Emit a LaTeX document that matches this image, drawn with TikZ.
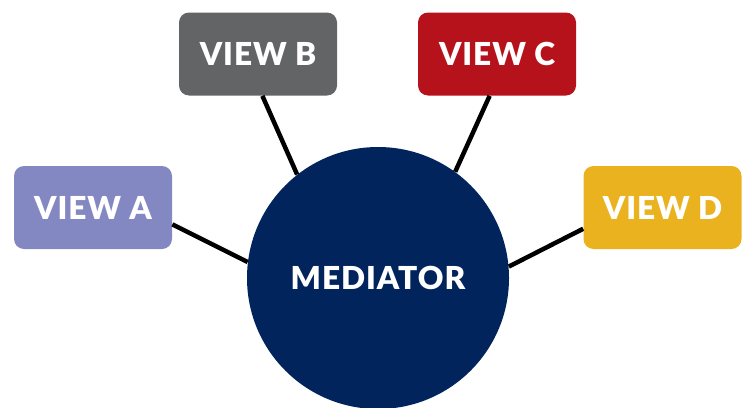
\documentclass[tikz,border=0pt]{standalone}
\usepackage{fontspec}
\setmainfont{Lato}[BoldFont={Lato Black}, LetterSpace=3]
\definecolor{viewa}{HTML}{8488C2}
\definecolor{viewb}{HTML}{636466}
\definecolor{viewc}{HTML}{B5121B}
\definecolor{viewd}{HTML}{EBB220}
\definecolor{navy}{HTML}{02245C}
\begin{document}
\begin{tikzpicture}[
  viewbox/.style={rectangle, rounded corners=0.2cm, minimum width=3.16cm, minimum height=1.66cm, text=white, font=\fontsize{18}{20}\selectfont\bfseries},
  link/.style={line width=0.09cm}]
\useasboundingbox (0,0) rectangle (14.96,-8.14);
\node[circle, fill=navy, minimum size=5.24cm, text=white, font=\fontsize{18}{20}\selectfont\bfseries] (m) at (7.56,-5.56) {MEDIATOR};
\node[viewbox, fill=viewa] (a) at (1.86,-4.15) {VIEW A};
\node[viewbox, fill=viewb] (b) at (5.16,-1.08) {VIEW B};
\node[viewbox, fill=viewc] (c) at (9.94,-1.08) {VIEW C};
\node[viewbox, fill=viewd] (d) at (13.25,-4.15) {VIEW D};
\draw[link] (a.-12) -- (m.173);
\draw[link] (b.-84) -- (m.128);
\draw[link] (c.-100) -- (m.54);
\draw[link] (d.195) -- (m.5);
\end{tikzpicture}
\end{document}
